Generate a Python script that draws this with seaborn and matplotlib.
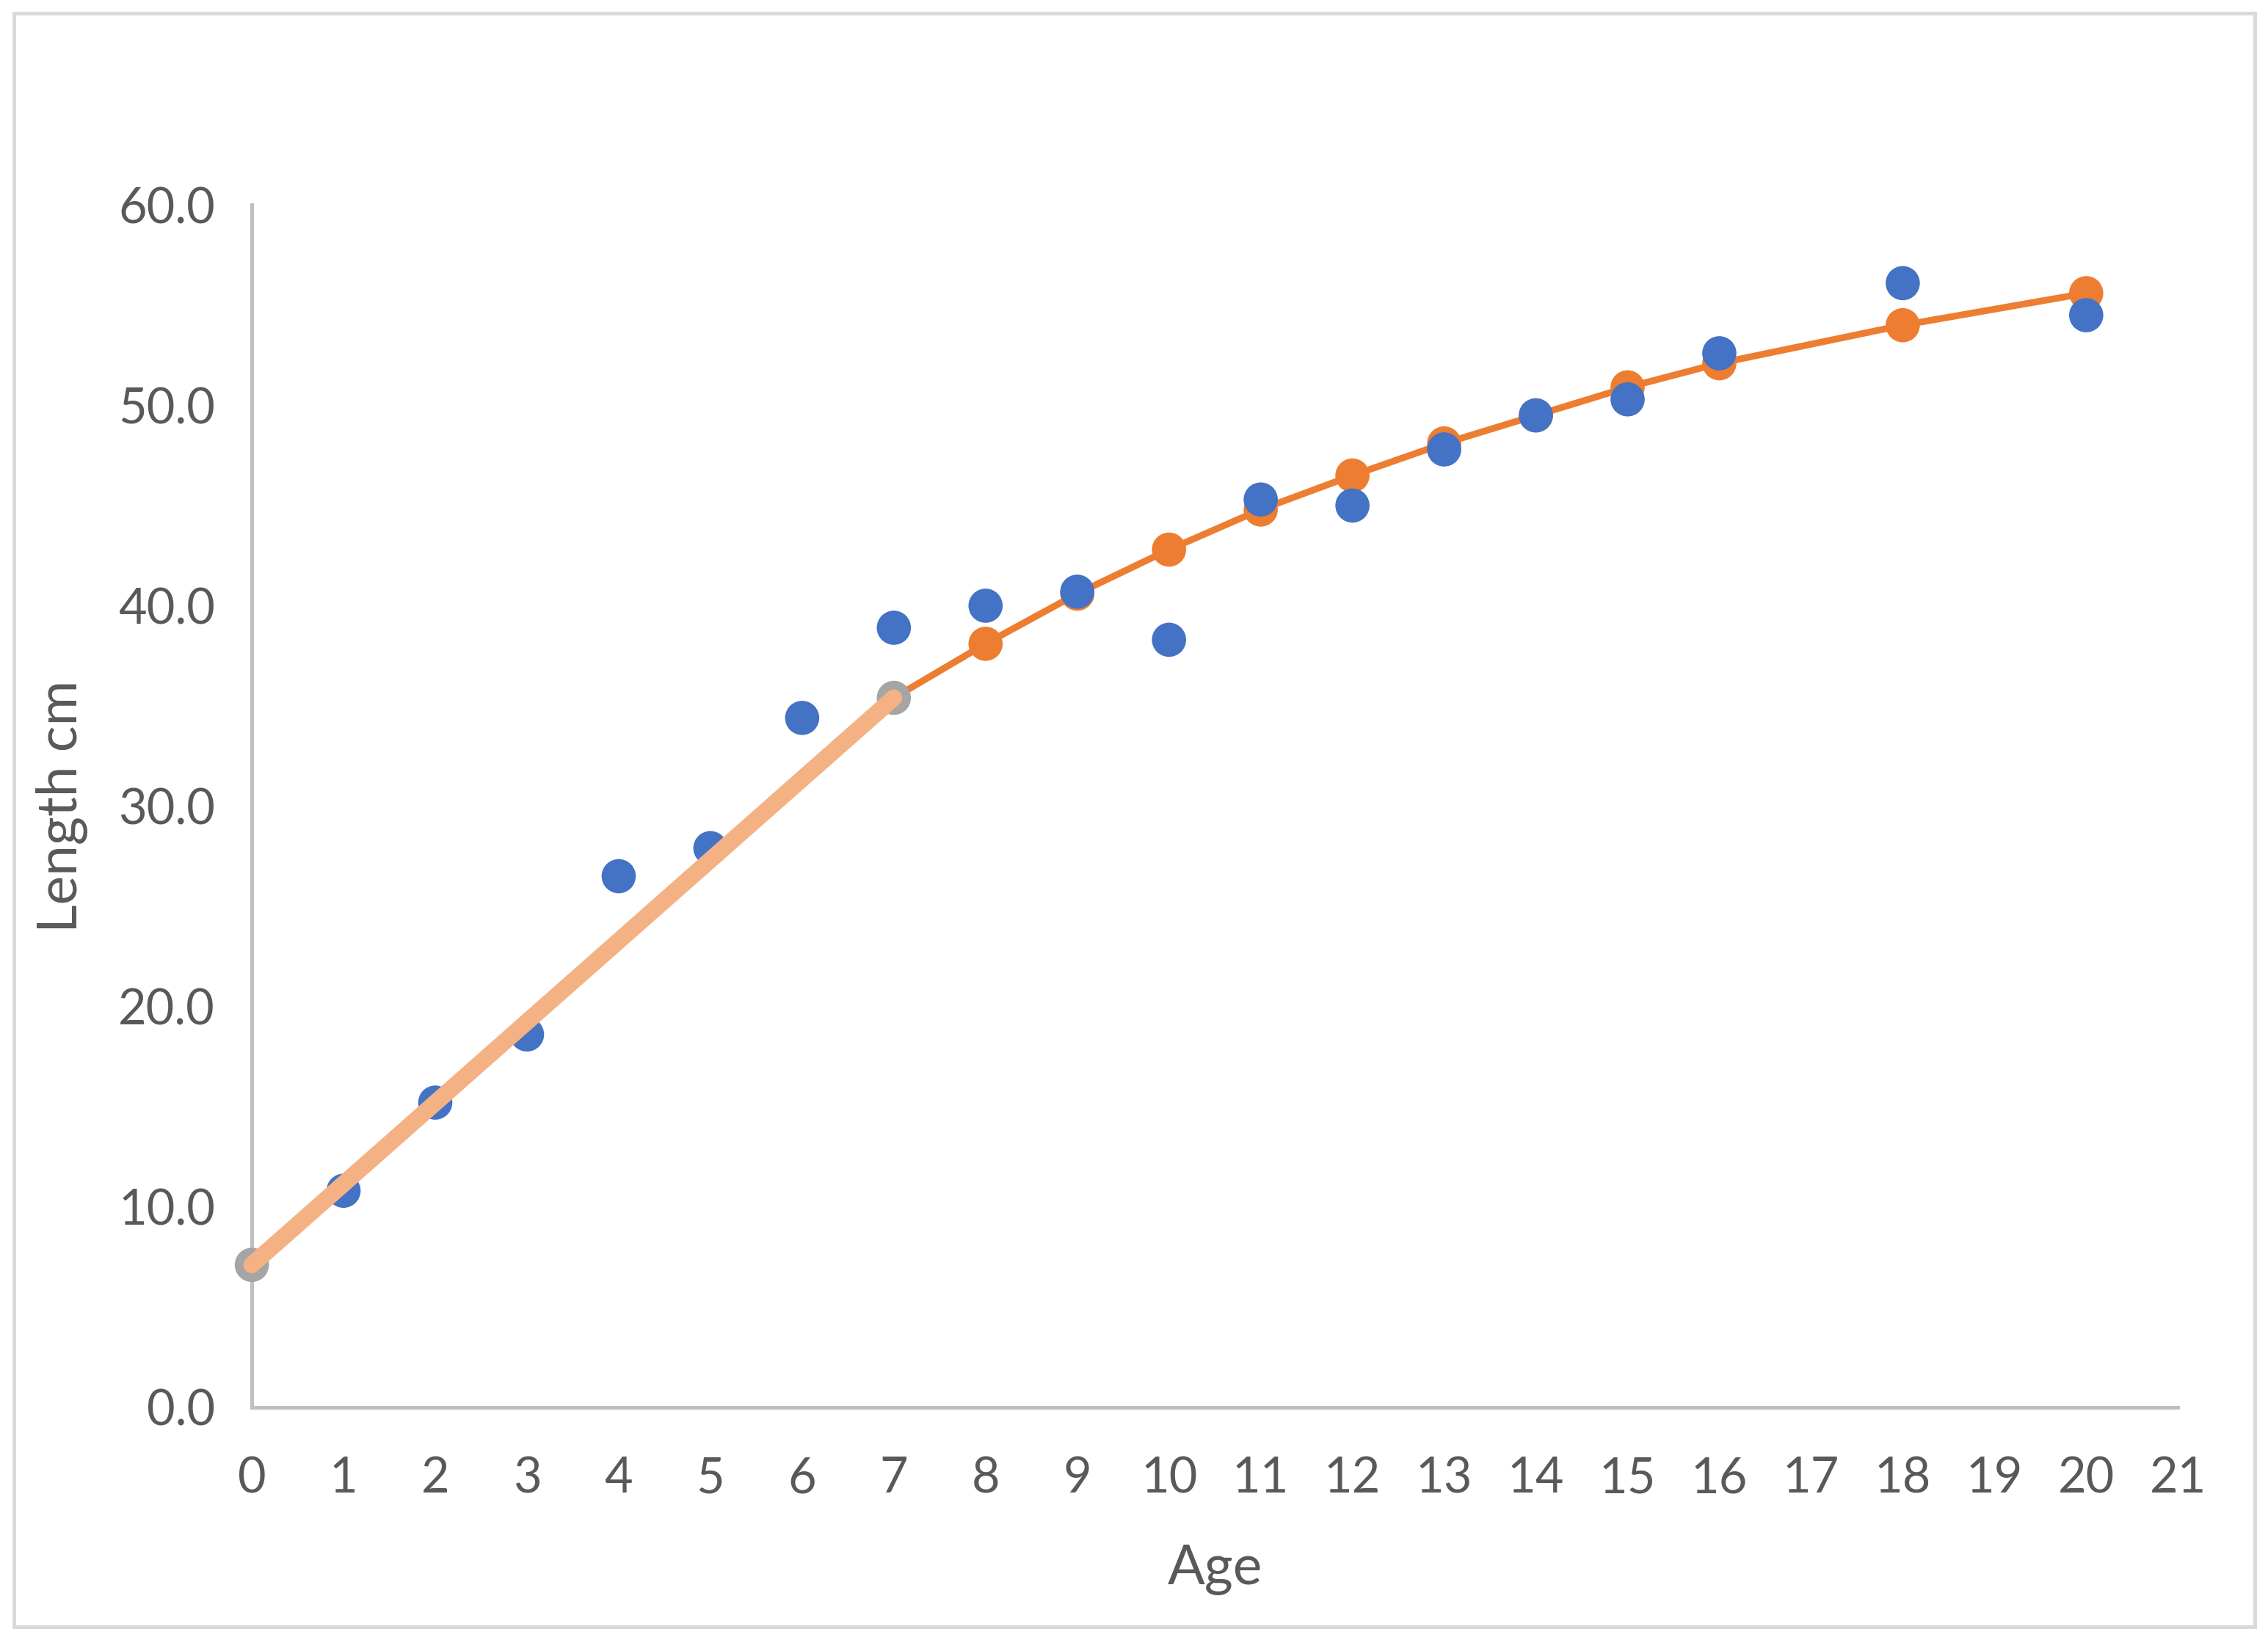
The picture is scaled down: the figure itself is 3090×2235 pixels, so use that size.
import matplotlib
matplotlib.use("Agg")
import matplotlib.pyplot as plt
import seaborn as sns
import numpy as np
from matplotlib.patches import Rectangle

# observed data
obs_age = [1, 2, 3, 4, 5, 6, 7, 8, 9, 10, 11, 12, 13, 14, 15, 16, 18, 20]
obs_len = [10.8, 15.2, 18.6, 26.5, 27.9, 34.4, 38.9, 40.0, 40.7, 38.3,
           45.3, 45.0, 47.8, 49.5, 50.3, 52.6, 56.1, 54.5]
# model fit (older ages)
fit_age = [8, 9, 10, 11, 12, 13, 14, 15, 16, 18, 20]
fit_len = [38.1, 40.6, 42.8, 44.8, 46.5, 48.1, 49.5, 50.9, 52.1, 54.0, 55.6]
# linear early-growth segment
lin_age = [0, 7]
lin_len = [7.1, 35.4]

blue = '#4472C4'
orange = '#ED7D31'
light = '#F4B183'
grey_pt = '#A5A5A5'
txt = '#595959'

sns.set_style("white")
plt.rcParams['font.family'] = ['Lato', 'DejaVu Sans']

fig = plt.figure(figsize=(10.303, 7.45), dpi=300)
ax = fig.add_axes([0.111, 0.142, 0.849, 0.733])

ms = 125
sns.lineplot(x=[lin_age[1]] + fit_age, y=[lin_len[1]] + fit_len, ax=ax,
             color=orange, lw=2.2, zorder=2)
sns.scatterplot(x=fit_age, y=fit_len, ax=ax, color=orange, s=ms,
                edgecolor='none', zorder=3)
sns.scatterplot(x=obs_age, y=obs_len, ax=ax, color=blue, s=ms,
                edgecolor='none', zorder=4)
sns.scatterplot(x=lin_age, y=lin_len, ax=ax, color=grey_pt, s=ms,
                edgecolor='none', zorder=5)
sns.lineplot(x=lin_age, y=lin_len, ax=ax, color=light, lw=5.5, zorder=6)

ax.set_xlim(0, 21)
ax.set_ylim(0, 60)
ax.set_xticks(range(0, 22))
ax.set_yticks(range(0, 61, 10))
ax.set_yticklabels([f"{v:.1f}" for v in range(0, 61, 10)])
ax.tick_params(length=0, labelsize=16, colors=txt)
ax.tick_params(axis='x', pad=16)
ax.tick_params(axis='y', pad=12)
ax.set_xlabel("Age", fontsize=18, color=txt, labelpad=14)
ax.set_ylabel("Length cm", fontsize=18, color=txt, labelpad=10)
for s in ['top', 'right']:
    ax.spines[s].set_visible(False)
for s in ['left', 'bottom']:
    ax.spines[s].set_color('#BFBFBF')
    ax.spines[s].set_linewidth(1.2)
ax.margins(0)
for c in ax.collections:
    c.set_clip_on(False)
for l in ax.lines:
    l.set_clip_on(False)

fig.patches.append(Rectangle((0.006, 0.008), 0.988, 0.984, transform=fig.transFigure,
                             fill=False, edgecolor='#D9D9D9', lw=1.2))
fig.savefig("out.png", dpi=300)
